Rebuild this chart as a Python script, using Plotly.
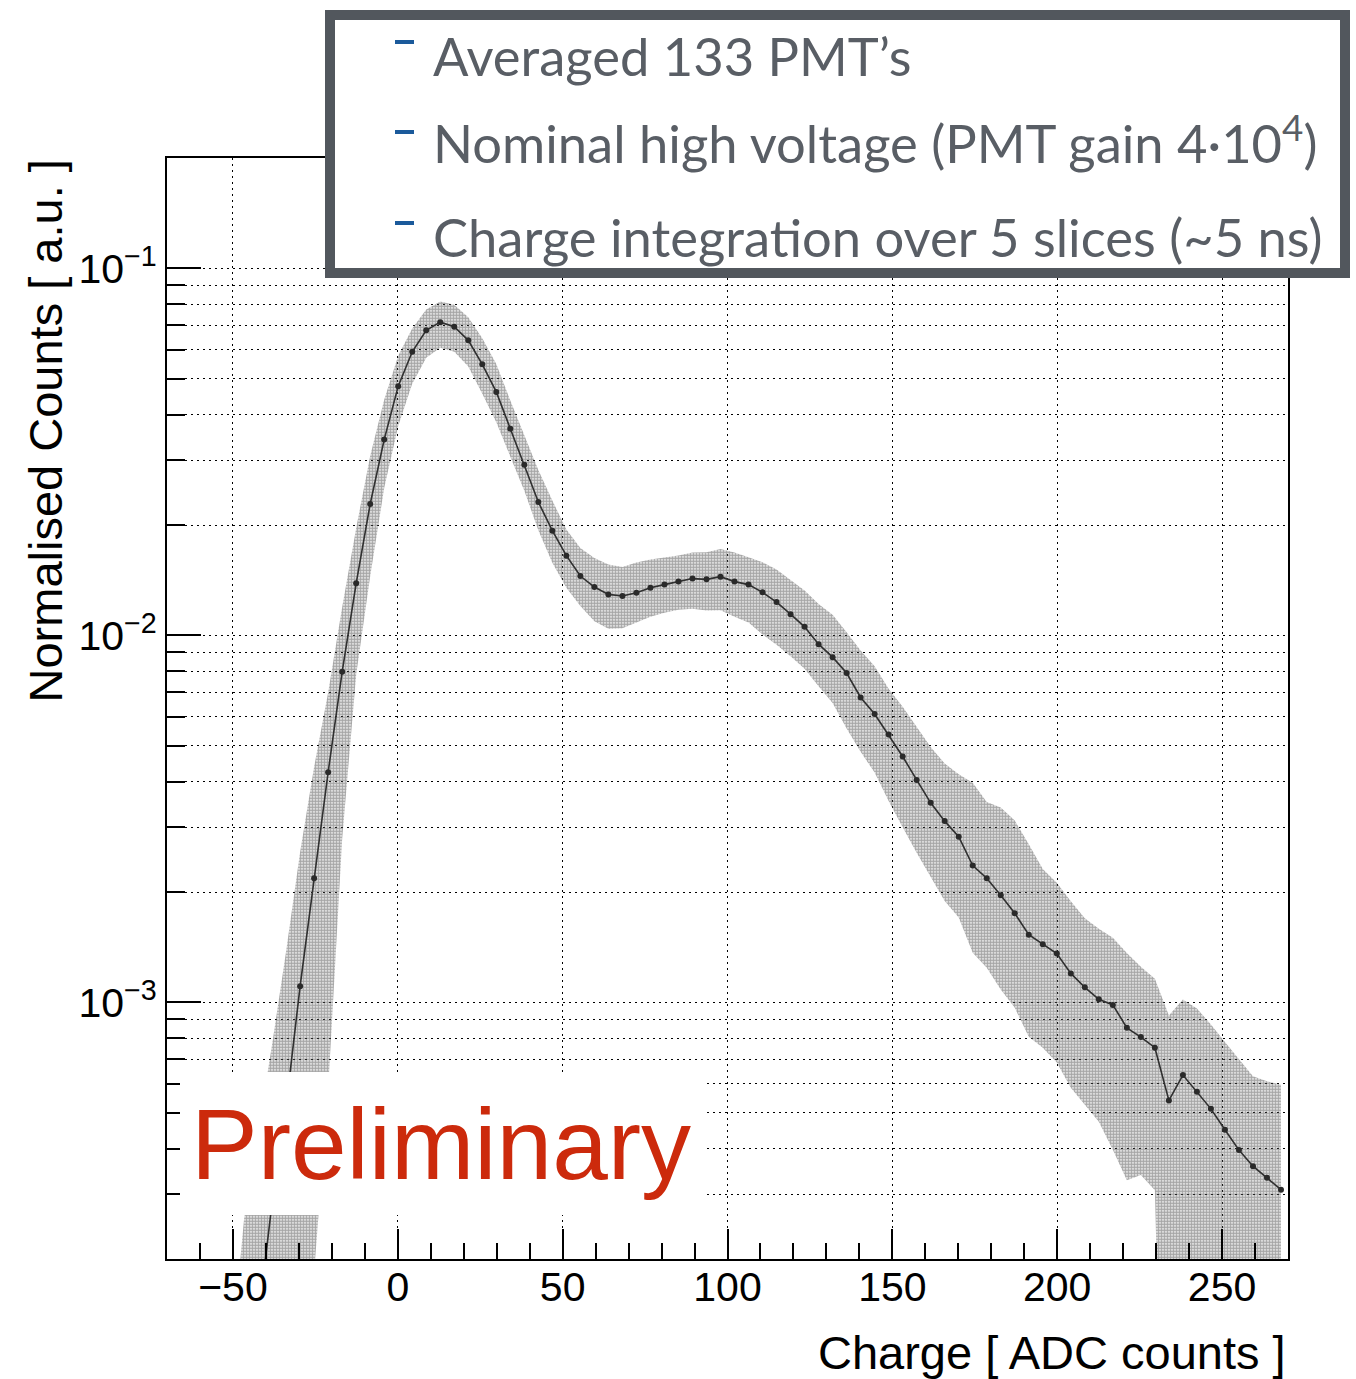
import plotly.graph_objects as go

# ---------------- data ----------------
charge = [-50.875, -46.625, -42.375, -38.125, -33.875, -29.625, -25.375, -21.125,
          -16.875, -12.625, -8.375, -4.125, 0.125, 4.375, 8.625, 12.875, 17.125,
          21.375, 25.625, 29.875, 34.125, 38.375, 42.625, 46.875, 51.125, 55.375,
          59.625, 63.875, 68.125, 72.375, 76.625, 80.875, 85.125, 89.375, 93.625,
          97.875, 102.125, 106.375, 110.625, 114.875, 119.125, 123.375, 127.625,
          131.875, 136.125, 140.375, 144.625, 148.875, 153.125, 157.375, 161.625,
          165.875, 170.125, 174.375, 178.625, 182.875, 187.125, 191.375, 195.625,
          199.875, 204.125, 208.375, 212.625, 216.875, 221.125, 225.375, 229.625,
          233.875, 238.125, 242.375, 246.625, 250.875, 255.125, 259.375, 263.625,
          267.875]

counts = [2.5e-5, 6.0e-5, 1.35e-4, 2.85e-4, 5.2e-4, 1.108e-3, 2.18e-3, 4.24e-3,
          7.96e-3, 1.387e-2, 2.282e-2, 3.418e-2, 4.78e-2, 5.93e-2, 6.785e-2, 7.14e-2,
          6.94e-2, 6.37e-2, 5.48e-2, 4.61e-2, 3.66e-2, 2.92e-2, 2.31e-2, 1.93e-2,
          1.65e-2, 1.452e-2, 1.355e-2, 1.294e-2, 1.281e-2, 1.308e-2, 1.35e-2, 1.376e-2,
          1.402e-2, 1.429e-2, 1.422e-2, 1.446e-2, 1.402e-2, 1.376e-2, 1.311e-2,
          1.233e-2, 1.143e-2, 1.056e-2, 9.47e-3, 8.73e-3, 7.90e-3, 6.78e-3, 6.11e-3,
          5.37e-3, 4.68e-3, 4.04e-3, 3.50e-3, 3.12e-3, 2.83e-3, 2.36e-3, 2.18e-3,
          1.96e-3, 1.75e-3, 1.53e-3, 1.44e-3, 1.36e-3, 1.20e-3, 1.10e-3, 1.02e-3,
          9.85e-4, 8.53e-4, 8.05e-4, 7.53e-4, 5.41e-4, 6.34e-4, 5.71e-4, 5.13e-4,
          4.50e-4, 3.96e-4, 3.58e-4, 3.33e-4, 3.09e-4]

band_upper = [1.0e-4, 2.57e-4, 4.44e-4, 7.68e-4, 1.378e-3, 2.57e-3, 4.386e-3, 6.99e-3,
              1.193e-2, 1.961e-2, 3.083e-2, 4.386e-2, 5.785e-2, 6.858e-2, 7.727e-2,
              8.125e-2, 7.97e-2, 7.36e-2, 6.45e-2, 5.49e-2, 4.367e-2, 3.503e-2,
              2.823e-2, 2.331e-2, 1.945e-2, 1.732e-2, 1.626e-2, 1.560e-2, 1.537e-2,
              1.580e-2, 1.610e-2, 1.630e-2, 1.651e-2, 1.683e-2, 1.686e-2, 1.721e-2,
              1.683e-2, 1.633e-2, 1.583e-2, 1.512e-2, 1.416e-2, 1.325e-2, 1.218e-2,
              1.139e-2, 1.021e-2, 9.10e-3, 8.24e-3, 7.16e-3, 6.39e-3, 5.62e-3, 4.97e-3,
              4.48e-3, 4.19e-3, 3.97e-3, 3.52e-3, 3.40e-3, 3.13e-3, 2.70e-3, 2.31e-3,
              2.12e-3, 1.888e-3, 1.696e-3, 1.588e-3, 1.502e-3, 1.363e-3, 1.252e-3,
              1.161e-3, 9.21e-4, 1.019e-3, 9.63e-4, 8.71e-4, 7.81e-4, 6.99e-4, 6.29e-4,
              6.10e-4, 5.97e-4]

band_lower = [1e-6, 1e-6, 1e-6, 1e-6, 1e-6, 3e-5, 1.84e-4, 5.79e-4,
              2.79e-3, 7.82e-3, 1.449e-2, 2.521e-2, 3.724e-2, 4.85e-2, 5.71e-2,
              6.08e-2, 5.93e-2, 5.41e-2, 4.56e-2, 3.81e-2, 3.09e-2, 2.479e-2,
              1.936e-2, 1.578e-2, 1.350e-2, 1.203e-2, 1.094e-2, 1.043e-2, 1.047e-2,
              1.083e-2, 1.125e-2, 1.153e-2, 1.175e-2, 1.183e-2, 1.170e-2, 1.172e-2,
              1.125e-2, 1.085e-2, 1.006e-2, 9.43e-3, 8.78e-3, 8.11e-3, 7.27e-3,
              6.55e-3, 5.58e-3, 4.82e-3, 4.23e-3, 3.54e-3, 3.00e-3, 2.56e-3, 2.195e-3,
              1.891e-3, 1.703e-3, 1.367e-3, 1.244e-3, 1.085e-3, 9.67e-4, 8.07e-4,
              7.53e-4, 6.86e-4, 5.86e-4, 5.26e-4, 4.73e-4, 3.97e-4, 3.28e-4, 3.39e-4,
              3.08e-4, 1e-5, 1e-5, 1e-5, 1e-5, 1e-5, 1e-5, 1e-5, 1e-5, 1e-5]

x_ticks = [-50, 0, 50, 100, 150, 200, 250]
x_ticktext = ["\u221250", "0", "50", "100", "150", "200", "250"]
x_minor = [-60, -40, -30, -20, -10, 10, 20, 30, 40, 60, 70, 80, 90, 110, 120, 130,
           140, 160, 170, 180, 190, 210, 220, 230, 240, 260, 270]
y_ticks = [1e-3, 1e-2, 1e-1]
y_ticktext = ["10<sup>\u22123</sup>", "10<sup>\u22122</sup>", "10<sup>\u22121</sup>"]
y_minor = [m * d for d in (1e-4, 1e-3, 1e-2, 1e-1) for m in range(2, 10)]

info_lines = ["Averaged 133 PMT\u2019s",
              "Nominal high voltage (PMT gain 4\u00b710<sup>4</sup>)",
              "Charge integration over 5 slices (~5 ns)"]
info_y = [55, 140, 236]

# ---------------- geometry helpers (pixel -> paper) ----------------
W, H = 1356, 1379
L, R, T, B = 167, 68, 158, 120
PW, PH = W - L - R, H - T - B


def px(x):
    return (x - L) / PW


def py(y):
    return (H - B - y) / PH


fig = go.Figure()

# error band
fig.add_trace(go.Scatter(
    x=charge + charge[::-1],
    y=band_upper + band_lower[::-1],
    fill="toself",
    fillcolor="rgba(0,0,0,0)",
    fillpattern=dict(shape=".", fgcolor="#4e4e4e", bgcolor="rgba(0,0,0,0)",
                     size=3, solidity=0.75),
    line=dict(width=0),
    mode="lines",
    hoverinfo="skip",
    showlegend=False,
))

# mean curve
fig.add_trace(go.Scatter(
    x=charge, y=counts,
    mode="lines+markers",
    line=dict(color="#303030", width=1.6),
    marker=dict(color="#2a2a2a", size=6),
    showlegend=False,
))

grid_dash = "2px,4px"
fig.update_xaxes(
    range=[-70, 270],
    tickmode="array", tickvals=x_ticks, ticktext=x_ticktext,
    ticks="inside", ticklen=30, tickwidth=1.5, tickcolor="black",
    showline=True, linecolor="black", linewidth=2, mirror=True,
    showgrid=True, gridcolor="black", gridwidth=1, griddash=grid_dash,
    zeroline=False, ticklabelstandoff=-9,
    tickfont=dict(family="Liberation Sans", size=41, color="black"),
    minor=dict(tickmode="array", tickvals=x_minor, ticks="inside", ticklen=16,
               tickwidth=1.5, tickcolor="black", showgrid=False),
)
fig.update_yaxes(
    type="log",
    range=[-3.69897, -0.69897],
    tickmode="array", tickvals=y_ticks, ticktext=y_ticktext,
    ticks="inside", ticklen=34, tickwidth=1.5, tickcolor="black",
    showline=True, linecolor="black", linewidth=2, mirror=True,
    showgrid=True, gridcolor="black", gridwidth=1, griddash=grid_dash,
    zeroline=False,
    tickfont=dict(family="Liberation Sans", size=41, color="black"),
    minor=dict(tickmode="array", tickvals=y_minor, ticks="inside", ticklen=18,
               tickwidth=1.5, tickcolor="black", showgrid=True,
               gridcolor="black", gridwidth=1, griddash=grid_dash),
)

shapes = []
# white box behind "Preliminary"
shapes.append(dict(type="rect", xref="paper", yref="paper",
                   x0=px(180), x1=px(707), y0=py(1215), y1=py(1072),
                   fillcolor="white", line=dict(width=0), layer="above"))
# info box
shapes.append(dict(type="rect", xref="paper", yref="paper",
                   x0=px(330), x1=px(1345), y0=py(273), y1=py(15),
                   fillcolor="white", line=dict(color="#52575d", width=10),
                   layer="above"))
# blue bullets
for yb in (42, 132, 223):
    shapes.append(dict(type="rect", xref="paper", yref="paper",
                       x0=px(395), x1=px(414), y0=py(yb + 2), y1=py(yb - 2),
                       fillcolor="#1b5a9b", line=dict(width=0), layer="above"))

annotations = []
for txt, yy in zip(info_lines, info_y):
    annotations.append(dict(
        x=px(431), y=py(yy), xref="paper", yref="paper",
        xanchor="left", yanchor="middle", text=txt, showarrow=False,
        font=dict(family="Lato", size=52.5, color="#595e65")))

annotations.append(dict(
    x=px(189), y=py(1144), xref="paper", yref="paper",
    xanchor="left", yanchor="middle", text="Preliminary", showarrow=False,
    font=dict(family="Liberation Sans", size=100, color="#cc2a0c")))

annotations.append(dict(
    x=px(1288), y=py(1352), xref="paper", yref="paper",
    xanchor="right", yanchor="middle", text="Charge [ ADC counts ]",
    showarrow=False, font=dict(family="Liberation Sans", size=47, color="black")))

annotations.append(dict(
    x=px(45), y=py(158), xref="paper", yref="paper",
    xanchor="center", yanchor="top", text="Normalised Counts [ a.u. ]",
    textangle=-90, showarrow=False,
    font=dict(family="Liberation Sans", size=47, color="black")))

fig.update_layout(
    width=W, height=H,
    margin=dict(l=L, r=R, t=T, b=B, autoexpand=False),
    paper_bgcolor="white", plot_bgcolor="white",
    shapes=shapes, annotations=annotations,
    showlegend=False,
)

fig.write_html("out.html")
